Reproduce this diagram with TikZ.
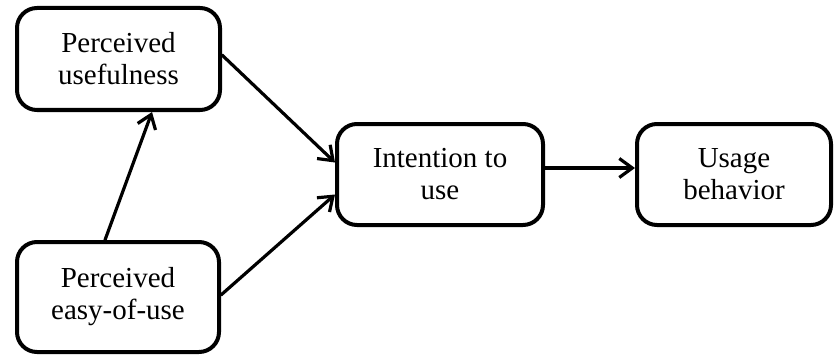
\documentclass[tikz,border=0pt]{standalone}
\usepackage{fontspec}
\setmainfont{Liberation Serif}
\usetikzlibrary{arrows.meta}

\begin{document}
\begin{tikzpicture}[x=0.5pt,y=-0.5pt,
    factor/.style ={rectangle, rounded corners=10pt, draw, line width=2pt,
      align=center, inner sep=0pt, font=\fontsize{14.5}{16}\selectfont},
    link/.style ={line width=1.6pt, line cap=round,
      -{Straight Barb[length=6.5pt,width=9.5pt,line width=1.6pt]}}]
   \useasboundingbox (0,0) rectangle (834,358);

   \node[factor,minimum width=101.5pt,minimum height=51pt] (PU)  at (118.5,59)  {Perceived\\usefulness};
   \node[factor,minimum width=101pt,minimum height=55pt] (PE)  at (118,297)  {Perceived\\easy-of-use};
   \node[factor,minimum width=103pt,minimum height=50.5pt] (IU)  at (440,174.5)  {Intention to\\use};
   \node[factor,minimum width=97pt,minimum height=50.5pt] (UB)  at (734,174.5)  {Usage\\behavior};

   \draw[link] ([yshift=2pt]PU.east) to ([yshift=6pt]IU.west);
   \draw[link] ([yshift=1pt]PE.east) to ([yshift=-10pt]IU.west);
   \draw[link] ([xshift=-6.5pt]PE.north) to ([xshift=16.75pt]PU.south);
   \draw[link] ([yshift=3.25pt]IU.east) to ([yshift=3.25pt]UB.west);
 \end{tikzpicture}
\end{document}
